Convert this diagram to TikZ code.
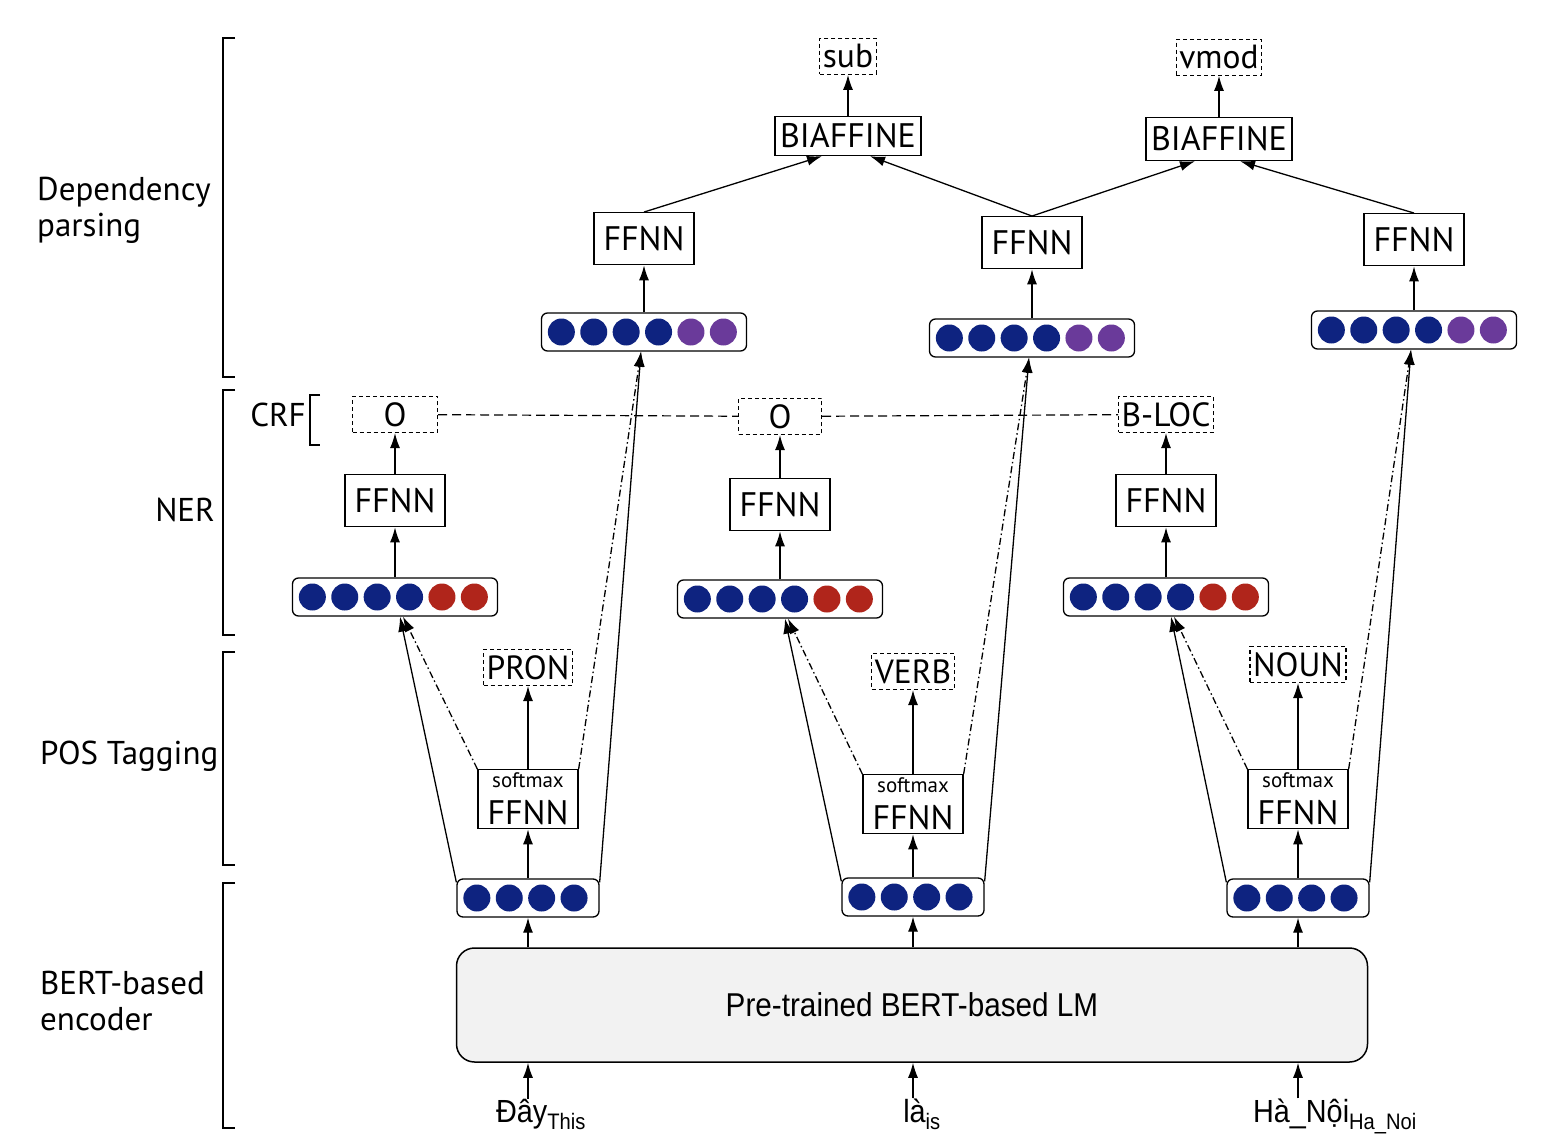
\documentclass[tikz,border=0pt]{standalone}
\usepackage{fontspec}
\setmainfont{PT Sans}
\newfontfamily\narrowsans[FakeStretch=0.9]{Liberation Sans}
\usetikzlibrary{arrows.meta, positioning, calc}
\definecolor{DotBlue}{HTML}{0E2380}
\definecolor{DotRed}{HTML}{B0251B}
\definecolor{DotPurple}{HTML}{6A3A9A}
\definecolor{LMGray}{HTML}{F2F2F2}
\tikzset{
    ffnn/.style={rectangle, draw=black, fill=white, minimum width=100pt, minimum height=52pt, inner sep=0pt, line width=1.3pt, font=\fontsize{34}{40}\selectfont},
    softbox/.style={ffnn, minimum height=59pt, align=center, font=\fontsize{34}{41}\selectfont},
    tagbox/.style={rectangle, draw=black, dash pattern=on 4pt off 3pt, minimum height=36pt, inner xsep=3pt, inner ysep=0pt, line width=1.2pt, font=\fontsize{33.5}{40}\selectfont},
    wvec/.style={rectangle, rounded corners=6pt, draw=black, fill=white, minimum width=142pt, minimum height=38pt, line width=1.3pt},
    hvec/.style={wvec, minimum width=205pt},
    lmbox/.style={rectangle, rounded corners=18pt, draw=black, fill=LMGray, minimum width=911pt, minimum height=114pt, line width=1.5pt, font=\narrowsans\fontsize{33}{38}\selectfont},
    token/.style={inner sep=0pt, anchor=base, font=\narrowsans\fontsize{32}{38}\selectfont},
    layerlabel/.style={inner sep=0pt, align=left, font=\fontsize{33}{36}\selectfont},
    arr/.style={-{Latex[length=15pt, width=10pt]}, line width=1.3pt},
    dashdot/.style={dash pattern=on 7pt off 3pt on 1.5pt off 3pt},
    crfline/.style={dash pattern=on 9pt off 5pt, line width=1.2pt},
    bracket/.style={line width=1.5pt}
}
% circles inside a vector box
\newcommand{\putdots}[2]{\foreach \dotcol [count=\k from 0] in {#2} {\fill[\dotcol] ($(#1.west)+(20.5+32.4*\k,0)$) circle (13.5);}}

\begin{document}
\begin{tikzpicture}[x=1pt, y=-1pt]
    \useasboundingbox (0,0) rectangle (1566,1148);

    % Layer labels
    \node[layerlabel, anchor=west] (lbdep) at (37,210) {Dependency\\parsing};
    \node[layerlabel, anchor=east] (lbner) at (215,510) {NER};
    \node[layerlabel, anchor=east] (lbcrf) at (306,415) {CRF};
    \node[layerlabel, anchor=west] (lbpos) at (40,756) {POS Tagging};
    \node[layerlabel, anchor=west] (lbenc) at (40,1001) {BERT-based\\encoder};
    \draw[bracket] (235,38) -- (223,38) -- (223,377) -- (235,377);
    \draw[bracket] (235,390) -- (223,390) -- (223,635) -- (235,635);
    \draw[bracket] (235,652) -- (223,652) -- (223,865) -- (235,865);
    \draw[bracket] (235,883) -- (223,883) -- (223,1128) -- (235,1128);
    \draw[bracket] (320,395) -- (310,395) -- (310,445) -- (320,445);

    % Encoder
    \node[lmbox] (bert) at (912,1005) {Pre-trained BERT-based LM};
    \node[token] (tokA) at (541,1122) {Đây\textsubscript{This}};
    \node[token] (tokB) at (922,1122) {là\textsubscript{is}};
    \node[token] (tokC) at (1335,1122) {Hà\_Nội\textsubscript{Ha\_Noi}};
    \node[wvec] (wA) at (528,898) {};
    \node[wvec] (wB) at (913,897) {};
    \node[wvec] (wC) at (1298,898) {};

    % POS tagging
    \node[softbox, above=49pt of wA] (posA) {{\fontsize{21}{21}\selectfont softmax}\\[-4pt]FFNN};
    \node[softbox, above=43pt of wB] (posB) {{\fontsize{21}{21}\selectfont softmax}\\[-4pt]FFNN};
    \node[softbox, above=49pt of wC] (posC) {{\fontsize{21}{21}\selectfont softmax}\\[-4pt]FFNN};
    \node[tagbox, above=83pt of posA] (tagA) {PRON};
    \node[tagbox, above=84pt of posB] (tagB) {VERB};
    \node[tagbox, above=86pt of posC] (tagC) {NOUN};

    % NER
    \node[hvec] (nerA) at (395,597) {};
    \node[hvec] (nerB) at (780,599) {};
    \node[hvec] (nerC) at (1166,597) {};
    \node[ffnn, above=50pt of nerA] (nffA) {FFNN};
    \node[ffnn, above=48pt of nerB] (nffB) {FFNN};
    \node[ffnn, above=50pt of nerC] (nffC) {FFNN};
    \node[tagbox, minimum width=85pt, above=41pt of nffA] (crfA) {O};
    \node[tagbox, minimum width=83pt, above=43pt of nffB] (crfB) {O};
    \node[tagbox, above=41pt of nffC] (crfC) {B-LOC};

    % Dependency parsing
    \node[hvec] (depA) at (644,332) {};
    \node[hvec] (depB) at (1032,338) {};
    \node[hvec] (depC) at (1414,330) {};
    \node[ffnn, above=47pt of depA] (dffA) {FFNN};
    \node[ffnn, above=49pt of depB] (dffB) {FFNN};
    \node[ffnn, above=44pt of depC] (dffC) {FFNN};
    \node[ffnn, minimum width=146pt, minimum height=39pt] (biaA) at (848,136) {BIAFFINE};
    \node[ffnn, minimum width=146pt, minimum height=43pt] (biaB) at (1219,139) {BIAFFINE};
    \node[tagbox, above=41pt of biaA] (relA) {sub};
    \node[tagbox, above=41pt of biaB] (relB) {vmod};

    % Dots
    \foreach \c in {A,B,C} {
        \putdots{w\c}{DotBlue,DotBlue,DotBlue,DotBlue}
        \putdots{ner\c}{DotBlue,DotBlue,DotBlue,DotBlue,DotRed,DotRed}
        \putdots{dep\c}{DotBlue,DotBlue,DotBlue,DotBlue,DotPurple,DotPurple}
    }

    % Paths
    \foreach \c in {A,B,C} {
        \draw[arr] (w\c |- tok\c.north) -- (w\c |- bert.south);
        \draw[arr] (w\c |- bert.north) -- (w\c.south);
        \draw[arr] (w\c) -- (pos\c);
        \draw[arr] (pos\c) -- (tag\c);
        \draw[arr] ([yshift=-4pt]w\c.north west) -- ([xshift=5pt]ner\c.south);
        \draw[arr, dashdot] (pos\c.north west) -- ([xshift=8pt]ner\c.south);
        \draw[arr] ([yshift=-4pt]w\c.north east) -- ([xshift=-3pt]dep\c.south);
        \draw[arr, dashdot] (pos\c.north east) -- ([xshift=-3pt]dep\c.south);
        \draw[arr] (ner\c) -- (nff\c);
        \draw[arr] (nff\c) -- (crf\c);
        \draw[arr] (dep\c) -- (dff\c);
    }
    \draw[crfline] (crfA) -- (crfB);
    \draw[crfline] (crfB) -- (crfC);
    \draw[arr] (dffA.north) -- ([xshift=-26pt]biaA.south);
    \draw[arr] (dffB.north) -- ([xshift=22pt]biaA.south);
    \draw[arr] (dffB.north) -- ([xshift=-24pt]biaB.south);
    \draw[arr] (dffC.north) -- ([xshift=21pt]biaB.south);
    \draw[arr] (biaA) -- (relA);
    \draw[arr] (biaB) -- (relB);
\end{tikzpicture}
\end{document}
